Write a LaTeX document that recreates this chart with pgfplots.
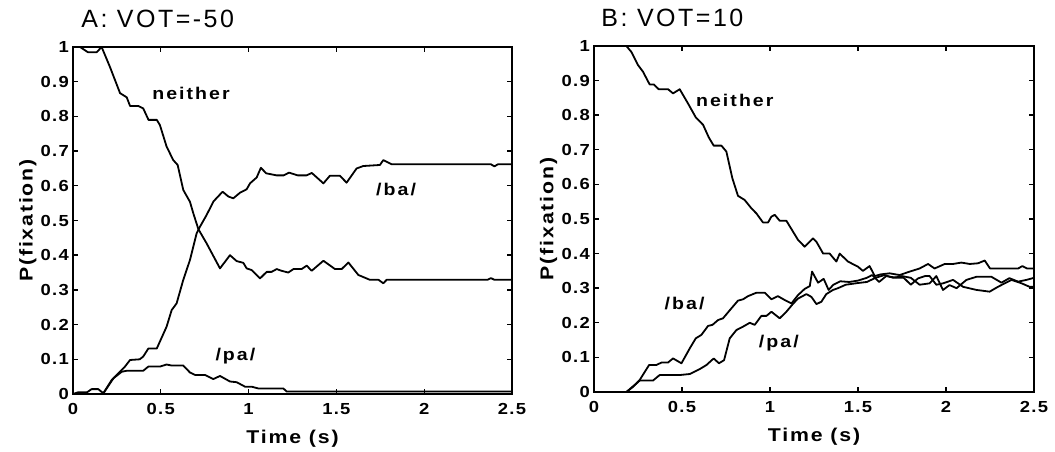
\documentclass[border=0pt]{standalone}
\usepackage{pgfplots}
\pgfplotsset{compat=1.18}
\usepackage{fontspec}
\setmainfont{Liberation Sans}
\newfontfamily\tickf[LetterSpace=8,FakeStretch=1.15]{Liberation Sans}
\newfontfamily\labf[LetterSpace=10,FakeStretch=1.15]{Liberation Sans}
\newfontfamily\curvef[LetterSpace=12,FakeStretch=1.15]{Liberation Sans}
\newfontfamily\titf[LetterSpace=10]{Liberation Sans}

\pgfplotstableread{
x y
0 1
0.04 1
0.085 0.985
0.135 0.985
0.163 1.0
0.21 0.943
0.268 0.867
0.306 0.855
0.325 0.83
0.372 0.83
0.40 0.823
0.43 0.79
0.477 0.79
0.495 0.775
0.533 0.713
0.571 0.674
0.596 0.66
0.628 0.588
0.666 0.554
0.685 0.521
0.714 0.475
0.761 0.434
0.837 0.362
0.894 0.40
0.932 0.383
0.97 0.378
0.989 0.362
1.018 0.357
1.065 0.333
1.103 0.352
1.131 0.352
1.16 0.36
1.188 0.355
1.226 0.35
1.255 0.36
1.302 0.36
1.331 0.37
1.359 0.355
1.426 0.384
1.492 0.36
1.53 0.36
1.568 0.379
1.625 0.343
1.691 0.329
1.74 0.329
1.767 0.319
1.786 0.329
2.36 0.329
2.38 0.334
2.40 0.329
2.5 0.329
}\Aneither

\pgfplotstableread{
x y
0 0
0.17 0
0.22 0.04
0.296 0.079
0.325 0.098
0.38 0.10
0.40 0.108
0.429 0.131
0.477 0.131
0.533 0.194
0.562 0.242
0.59 0.261
0.628 0.329
0.666 0.386
0.704 0.463
0.723 0.482
0.761 0.516
0.80 0.555
0.852 0.583
0.885 0.569
0.913 0.564
0.951 0.58
0.989 0.59
1.008 0.607
1.046 0.624
1.07 0.652
1.10 0.636
1.16 0.63
1.20 0.63
1.23 0.638
1.28 0.63
1.33 0.63
1.36 0.637
1.426 0.607
1.463 0.629
1.52 0.629
1.558 0.609
1.615 0.65
1.653 0.657
1.748 0.66
1.767 0.674
1.815 0.662
2.38 0.662
2.40 0.656
2.42 0.662
2.5 0.662
}\Aba

\pgfplotstableread{
x y
0 0
0.03 0.005
0.08 0.005
0.106 0.014
0.144 0.014
0.173 0.002
0.23 0.045
0.277 0.064
0.306 0.067
0.40 0.067
0.429 0.079
0.495 0.079
0.533 0.085
0.562 0.082
0.628 0.082
0.666 0.062
0.695 0.055
0.752 0.055
0.799 0.043
0.837 0.052
0.894 0.036
0.932 0.034
0.98 0.021
1.018 0.021
1.055 0.016
1.198 0.016
1.217 0.007
2.5 0.007
}\Apa

\pgfplotstableread{
x y
0 1
0.184 1
0.212 0.983
0.25 0.945
0.278 0.926
0.316 0.889
0.339 0.889
0.368 0.875
0.421 0.875
0.449 0.863
0.487 0.875
0.534 0.834
0.578 0.794
0.62 0.772
0.652 0.736
0.68 0.712
0.724 0.712
0.752 0.695
0.786 0.618
0.818 0.567
0.856 0.555
0.894 0.531
0.923 0.516
0.96 0.49
0.989 0.49
1.008 0.507
1.027 0.512
1.055 0.495
1.093 0.495
1.16 0.439
1.197 0.42
1.244 0.444
1.264 0.434
1.302 0.40
1.339 0.40
1.377 0.377
1.396 0.40
1.443 0.377
1.50 0.362
1.528 0.35
1.566 0.364
1.595 0.335
1.63 0.34
1.68 0.343
1.736 0.338
1.794 0.348
1.85 0.357
1.898 0.37
1.935 0.357
1.993 0.37
2.04 0.37
2.087 0.374
2.135 0.37
2.182 0.372
2.22 0.38
2.25 0.357
2.41 0.357
2.434 0.364
2.46 0.357
2.5 0.357
}\Bneither

\pgfplotstableread{
x y
0 0
0.184 0
0.222 0.015
0.26 0.035
0.313 0.078
0.354 0.078
0.383 0.085
0.42 0.085
0.449 0.097
0.497 0.083
0.544 0.126
0.578 0.155
0.61 0.165
0.648 0.191
0.673 0.194
0.705 0.208
0.733 0.213
0.781 0.242
0.818 0.264
0.847 0.268
0.875 0.277
0.923 0.287
0.97 0.287
1.008 0.268
1.045 0.277
1.083 0.266
1.122 0.256
1.159 0.28
1.197 0.298
1.226 0.306
1.239 0.348
1.273 0.316
1.305 0.327
1.333 0.295
1.36 0.31
1.40 0.32
1.45 0.318
1.50 0.322
1.55 0.33
1.58 0.338
1.62 0.318
1.66 0.335
1.72 0.33
1.76 0.33
1.80 0.31
1.84 0.328
1.88 0.335
1.907 0.335
1.945 0.31
1.983 0.314
2.04 0.324
2.097 0.304
2.173 0.295
2.248 0.29
2.295 0.304
2.372 0.324
2.43 0.314
2.475 0.304
2.5 0.304
}\Bba

\pgfplotstableread{
x y
0 0
0.184 0
0.26 0.033
0.335 0.033
0.373 0.049
0.487 0.049
0.544 0.052
0.60 0.066
0.639 0.078
0.68 0.097
0.71 0.083
0.739 0.092
0.771 0.155
0.809 0.179
0.847 0.189
0.885 0.20
0.913 0.194
0.951 0.22
0.98 0.22
1.008 0.232
1.055 0.213
1.093 0.232
1.131 0.255
1.159 0.27
1.207 0.283
1.235 0.275
1.264 0.254
1.292 0.261
1.32 0.283
1.358 0.295
1.386 0.30
1.43 0.31
1.50 0.315
1.55 0.318
1.60 0.33
1.65 0.338
1.70 0.33
1.75 0.335
1.80 0.33
1.85 0.31
1.907 0.314
1.945 0.335
1.983 0.295
2.02 0.309
2.06 0.30
2.116 0.324
2.173 0.333
2.258 0.333
2.315 0.316
2.36 0.329
2.41 0.319
2.457 0.324
2.5 0.33
}\Bpa

\tikzset{
  clab/.style={font=\curvef\bfseries\fontsize{17}{17}\selectfont, anchor=center},
  crv/.style={black, line width=1.8pt, line join=round, no marks},
}

\pgfplotsset{
  myax/.style={
    scale only axis,
    width=439pt, height=347pt,
    xmin=0, xmax=2.5, ymin=0, ymax=1,
    xtick={0,0.5,1,1.5,2,2.5},
    xticklabels={0,0.5,1,1.5,2,2.5},
    ytick={0,0.1,0.2,0.3,0.4,0.5,0.6,0.7,0.8,0.9,1},
    yticklabels={0,0.1,0.2,0.3,0.4,0.5,0.6,0.7,0.8,0.9,1},
    tick align=inside,
    major tick length=5pt,
    axis line style={line width=1.8pt},
    tick style={line width=1.4pt, black},
    ticklabel style={font=\tickf\bfseries\fontsize{16}{16}\selectfont, inner sep=3pt},
    xticklabel style={yshift=-6pt},
    yticklabel style={xshift=-1pt},
    xlabel={Time (s)},
    ylabel={P(fixation)},
    every axis x label/.style={at={(axis description cs:0.5,-0.128)}, anchor=center,
       font=\labf\bfseries\fontsize{18.5}{18.5}\selectfont},
    every axis y label/.style={at={(axis description cs:-0.103,0.5)}, rotate=90, anchor=center,
       font=\labf\bfseries\fontsize{18.5}{18.5}\selectfont},
    title style={font=\titf\fontsize{25}{25}\selectfont, anchor=base west},
  },
}

\begin{document}
\begin{tikzpicture}
\useasboundingbox (-73pt,-58pt) rectangle (982pt,394pt);
\begin{axis}[myax, at={(0pt,0pt)}, anchor=south west,
  title={A: VOT=-50}, title style={at={(axis description cs:0.011,1.04)}}]
\addplot[crv] table[x=x,y=y] {\Aneither};
\addplot[crv] table[x=x,y=y] {\Aba};
\addplot[crv] table[x=x,y=y] {\Apa};
\node[clab] at (axis cs:0.672,0.867) {neither};
\node[clab] at (axis cs:1.84,0.59) {/ba/};
\node[clab] at (axis cs:0.925,0.11) {/pa/};
\end{axis}
\begin{axis}[myax, at={(521pt,2pt)}, anchor=south west, width=440pt, height=346pt,
  title={B: VOT=10}, title style={at={(axis description cs:0.009,1.04)}}]
\addplot[crv] table[x=x,y=y] {\Bneither};
\addplot[crv] table[x=x,y=y] {\Bba};
\addplot[crv] table[x=x,y=y] {\Bpa};
\node[clab] at (axis cs:0.80,0.844) {neither};
\node[clab] at (axis cs:0.515,0.256) {/ba/};
\node[clab] at (axis cs:1.05,0.141) {/pa/};
\end{axis}
\end{tikzpicture}
\end{document}
